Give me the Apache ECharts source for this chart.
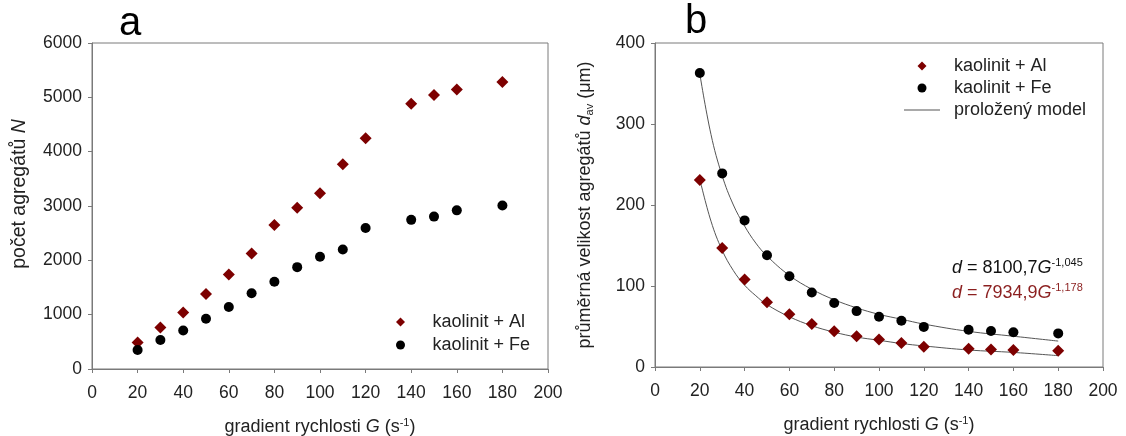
<!DOCTYPE html>
<html>
<head>
<meta charset="utf-8">
<script src="https://cdn.jsdelivr.net/npm/echarts@6/dist/echarts.min.js"></script>
<style>
html,body{margin:0;padding:0;background:#fff;}
#chart{width:1126px;height:436px;}
</style>
</head>
<body>
<div id="chart"></div>
<script>
// gradient G (s^-1)
const G = [20, 30, 40, 50, 60, 70, 80, 90, 100, 110, 120, 140, 150, 160, 180];
// panel a: number of aggregates N
const countAl = [490, 765, 1040, 1380, 1740, 2125, 2650, 2970, 3235, 3770, 4245, 4880, 5045, 5145, 5280];
const countFe = [350, 535, 710, 925, 1140, 1395, 1605, 1875, 2065, 2200, 2595, 2745, 2805, 2920, 3010];
// panel b: mean aggregate size d_av (µm)
const sizeAl = [231, 147, 108, 80, 65, 53, 44, 38, 34, 29.5, 25, 22.5, 21.5, 21, 20];
const sizeFe = [363, 239, 181, 138, 112, 92, 79, 69, 62, 57, 49.5, 46, 44.5, 43, 41.5];
// fitted model curves
const modelG = [20, 25, 30, 35, 40, 45, 50, 60, 70, 80, 90, 100, 110, 120, 140, 160, 180];
const modelFe = [362, 287, 236, 200, 174, 153, 137, 113, 96, 83, 73, 65, 59, 53, 44, 38, 32];
const modelAl = [232, 180, 144, 119, 101, 88, 77, 62, 51, 43, 37, 33, 29, 26, 21, 18, 14];
// tick settings
const xTicks = {min: 0, max: 200, interval: 20};
const yTicksA = {min: 0, max: 6000, interval: 1000};
const yTicksB = {min: 0, max: 400, interval: 100};

const nameAl = 'kaolinit + Al';
const nameFe = 'kaolinit + Fe';
const nameModel = 'proložený model';

const FONT = "'Liberation Sans', Arial, sans-serif";
const RED = '#7d0000';
const AXC = '#7a7a7a';
const FS = 18;

function pairs(xs, ys){ return xs.map((x,i)=>[x, ys[i]]); }

function rich(fs){
  return {
    n: {fontSize: fs, fontFamily: FONT, color: '#222'},
    i: {fontSize: fs, fontFamily: FONT, color: '#222', fontStyle: 'italic'},
    sup: {fontSize: Math.round(fs*0.62), fontFamily: FONT, color: '#222', verticalAlign: 'top', lineHeight: fs+2},
    sub: {fontSize: Math.round(fs*0.62), fontFamily: FONT, color: '#222', verticalAlign: 'bottom', lineHeight: fs+2}
  };
}

function xAxisCfg(gridIndex){
  return {
    type: 'value', gridIndex, ...xTicks,
    name: '{n|gradient rychlosti }{i|G}{n| (s}{sup|-1}{n|)}',
    nameLocation: 'middle', nameGap: 48,
    nameTextStyle: {rich: rich(FS), lineHeight: 20},
    axisLine: {show: true, lineStyle: {color: AXC, width: 1}},
    axisTick: {show: true, inside: false, length: 4, lineStyle: {color: AXC}},
    axisLabel: {fontSize: 17.5, fontFamily: FONT, color: '#222', margin: 15},
    splitLine: {show: false}
  };
}
function yAxisCfg(gridIndex, ticks, name, gap, pad, fs){
  return {
    type: 'value', gridIndex, ...ticks,
    name, nameLocation: 'middle', nameGap: gap,
    nameTextStyle: {rich: rich(fs), lineHeight: fs + 2, padding: pad},
    axisLine: {show: true, lineStyle: {color: AXC, width: 1}},
    axisTick: {show: true, inside: false, length: 4, lineStyle: {color: AXC}},
    axisLabel: {fontSize: 17.5, fontFamily: FONT, color: '#222', margin: 10, formatter: v => String(v)},
    splitLine: {show: false}
  };
}

const legendText = {fontSize: FS, fontFamily: FONT, color: '#222', padding: [0, 0, 0, 9], lineHeight: 20};
const lineIcon = 'path://M0,0 L36,0 L36,1.2 L0,1.2 Z';
const diamondIcon = 'path://M5,0 L10,5 L5,10 L0,5 Z';

const chart = echarts.init(document.getElementById('chart'), null, {renderer: 'canvas'});
chart.setOption({
  animation: false,
  backgroundColor: '#fff',
  grid: [
    {left: 92, top: 43, width: 456, height: 326, show: true, borderColor: AXC, borderWidth: 1, backgroundColor: 'transparent',
     containLabel: false, outerBoundsMode: 'none'},
    {left: 655, top: 43, width: 448, height: 324, show: true, borderColor: AXC, borderWidth: 1, backgroundColor: 'transparent',
     containLabel: false, outerBoundsMode: 'none'}
  ],
  xAxis: [xAxisCfg(0), xAxisCfg(1)],
  yAxis: [
    yAxisCfg(0, yTicksA, '{n|počet agregátů }{i|N}', 62, [0, 0, 0, 24], 19.5),
    yAxisCfg(1, yTicksB, '{n|průměrná velikost agregátů }{i|d}{sub|av}{n| (μm)}', 60, 0, FS)
  ],
  legend: [
    {
      orient: 'vertical', left: 391, top: 307, itemWidth: 36, itemHeight: 9, itemGap: 3,
      symbolKeepAspect: true,
      data: [{name: nameAl, icon: diamondIcon}, {name: nameFe, icon: 'circle'}],
      textStyle: legendText,
      selectedMode: false
    },
    {
      orient: 'vertical', left: 899, top: 51, itemWidth: 36, itemHeight: 9, itemGap: 2,
      symbolKeepAspect: true,
      data: [{name: nameAl, icon: diamondIcon}, {name: nameFe, icon: 'circle'}, {name: nameModel, icon: lineIcon}],
      textStyle: legendText,
      selectedMode: false
    }
  ],
  series: [
    {name: nameModel, type: 'line', xAxisIndex: 1, yAxisIndex: 1, data: pairs(modelG, modelFe), smooth: 0.4, symbol: 'none',
     lineStyle: {color: '#555', width: 1}, itemStyle: {color: '#555'}, z: 1},
    {name: nameModel, type: 'line', xAxisIndex: 1, yAxisIndex: 1, data: pairs(modelG, modelAl), smooth: 0.4, symbol: 'none',
     lineStyle: {color: '#555', width: 1}, itemStyle: {color: '#555'}, z: 1},
    {name: nameAl, type: 'scatter', xAxisIndex: 0, yAxisIndex: 0, data: pairs(G, countAl), symbol: 'diamond', symbolSize: 12,
     itemStyle: {color: RED, opacity: 1}, z: 3},
    {name: nameFe, type: 'scatter', xAxisIndex: 0, yAxisIndex: 0, data: pairs(G, countFe), symbol: 'circle', symbolSize: 10,
     itemStyle: {color: '#000', opacity: 1}, z: 3},
    {name: nameAl, type: 'scatter', xAxisIndex: 1, yAxisIndex: 1, data: pairs(G, sizeAl), symbol: 'diamond', symbolSize: 12,
     itemStyle: {color: RED, opacity: 1}, z: 3},
    {name: nameFe, type: 'scatter', xAxisIndex: 1, yAxisIndex: 1, data: pairs(G, sizeFe), symbol: 'circle', symbolSize: 10,
     itemStyle: {color: '#000', opacity: 1}, z: 3}
  ],
  graphic: [
    {type: 'text', left: 119, top: 4, style: {text: 'a', fontSize: 40, fontFamily: FONT, fill: '#000'}},
    {type: 'text', left: 685, top: 2, style: {text: 'b', fontSize: 40, fontFamily: FONT, fill: '#000'}},
    {type: 'text', left: 952, top: 257, style: {
      text: '{i|d}{n| = 8100,7}{i|G}{sup|-1,045}',
      rich: {
        n: {fontSize: FS, fontFamily: FONT, fill: '#111', lineHeight: 22},
        i: {fontSize: FS, fontFamily: FONT, fill: '#111', fontStyle: 'italic', lineHeight: 22},
        sup: {fontSize: 11, fontFamily: FONT, fill: '#111', verticalAlign: 'top', lineHeight: 22}
      }}},
    {type: 'text', left: 952, top: 282, style: {
      text: '{i|d}{n| = 7934,9}{i|G}{sup|-1,178}',
      rich: {
        n: {fontSize: FS, fontFamily: FONT, fill: '#8b1f1f', lineHeight: 22},
        i: {fontSize: FS, fontFamily: FONT, fill: '#8b1f1f', fontStyle: 'italic', lineHeight: 22},
        sup: {fontSize: 11, fontFamily: FONT, fill: '#8b1f1f', verticalAlign: 'top', lineHeight: 22}
      }}}
  ]
});
</script>
</body>
</html>
